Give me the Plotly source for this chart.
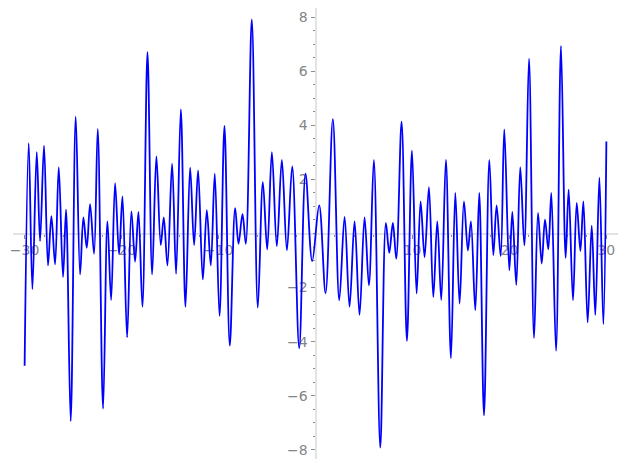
import plotly.graph_objects as go

# turning points of the curve
x_pts = [
    -30.0, -29.58, -29.20, -28.75, -28.41, -28.00, -27.59, -27.24, -26.86, -26.48,
    -26.04, -25.73, -25.25, -24.73, -24.28, -23.94, -23.59, -23.25, -22.84, -22.46,
    -21.91, -21.46, -21.08, -20.67, -20.26, -19.91, -19.43, -18.99, -18.61, -18.26,
    -17.85, -17.33, -16.85, -16.41, -15.96, -15.65, -15.27, -14.79, -14.38, -13.89,
    -13.41, -12.93, -12.52, -12.11, -11.62, -11.21, -10.80, -10.39, -9.90, -9.39,
    -8.84, -8.29, -7.94, -7.53, -7.19, -6.57, -5.95, -5.43, -4.98, -4.50,
    -3.99, -3.47, -2.95, -2.40, -1.68, -1.03, -0.34, 0.38, 1.04, 1.79,
    2.45, 3.00, 3.51, 4.03, 4.54, 5.06, 5.51, 6.02, 6.68, 7.26,
    7.61, 7.98, 8.33, 8.88, 9.43, 9.95, 10.43, 10.84, 11.25, 11.70,
    12.15, 12.56, 12.97, 13.45, 13.97, 14.42, 14.86, 15.31, 15.72, 16.03,
    16.48, 16.89, 17.38, 17.93, 18.34, 18.68, 19.10, 19.47, 19.99, 20.30,
    20.71, 21.12, 21.54, 22.02, 22.54, 22.95, 23.33, 23.67, 24.01, 24.32,
    24.81, 25.32, 25.80, 26.11, 26.56, 26.94, 27.32, 27.63, 28.07, 28.49,
    28.86, 29.28, 29.69, 30.0,
]
y_pts = [
    -4.89, 3.34, -2.06, 3.01, -0.28, 3.25, -1.18, 0.64, -1.14, 2.45,
    -1.61, 0.88, -6.94, 4.32, -1.51, 0.60, -0.53, 1.09, -0.75, 3.87,
    -6.48, 0.45, -2.46, 1.86, -0.77, 1.37, -3.84, 0.82, -1.04, 0.80,
    -2.71, 6.71, -1.51, 2.85, -0.43, 0.60, -1.18, 2.58, -1.49, 4.59,
    -2.71, 2.44, -0.43, 2.33, -1.70, 0.86, -1.18, 2.21, -3.05, 3.98,
    -4.15, 0.94, -0.38, 0.72, -0.38, 7.92, -2.74, 1.90, -0.59, 3.01,
    -0.47, 2.72, -0.62, 2.48, -4.24, 2.21, -1.02, 1.04, -2.21, 4.23,
    -2.47, 0.61, -2.71, 0.45, -3.01, 0.60, -1.92, 2.72, -7.92, 0.39,
    -0.71, 0.39, -0.93, 4.14, -3.97, 3.06, -2.22, 1.19, -0.87, 1.71,
    -2.35, 0.45, -2.46, 2.72, -4.61, 1.50, -2.59, 1.19, -0.63, 0.45,
    -2.84, 1.50, -6.73, 2.72, -0.80, 1.04, -0.84, 3.85, -1.36, 0.80,
    -1.90, 2.45, -0.44, 6.47, -3.87, 0.76, -1.11, 0.51, -0.59, 1.50,
    -4.34, 6.94, -0.90, 1.62, -2.47, 1.13, -0.65, 1.19, -3.29, 0.29,
    -3.01, 2.07, -3.35, 3.40,
]

x_ticks = [-30, -20, -10, 10, 20, 30]
y_ticks = [-8, -6, -4, -2, 2, 4, 6, 8]
y_tick_text = ["\u22128", "\u22126", "\u22124", "\u22122", "2", "4", "6", "8"]
x_tick_text = ["\u221230", "\u221220", "\u221210", "10", "20", "30"]

fig = go.Figure()
fig.add_trace(
    go.Scatter(
        x=x_pts,
        y=y_pts,
        mode="lines",
        line=dict(color="#0000ff", width=1.8, shape="spline", smoothing=1.0),
        hoverinfo="skip",
    )
)

axis_common = dict(
    showgrid=False,
    zeroline=False,
    showline=True,
    linecolor="#e3e3e3",
    linewidth=2,
    ticks="outside",
    ticklen=4,
    tickwidth=1,
    tickcolor="#8c8c8c",
    tickfont=dict(family="DejaVu Sans", size=14, color="#858585"),
    anchor="free",
    position=0.5,
    automargin=False,
    layer="below traces",
)

# the page puts the figure 8px in from the top-left corner, so the
# figure is a bit smaller than the window and the margins are trimmed
fig.update_layout(
    width=619,
    height=461,
    margin=dict(l=5, r=9, t=0, b=10),
    paper_bgcolor="white",
    plot_bgcolor="white",
    showlegend=False,
    xaxis=dict(
        range=[-31.2, 31.2],
        tickmode="array",
        tickvals=x_ticks,
        ticktext=x_tick_text,
        minor=dict(dtick=2, tick0=0, ticklen=2, ticks="outside", tickcolor="#8c8c8c"),
        **axis_common,
    ),
    yaxis=dict(
        range=[-8.34, 8.34],
        tickmode="array",
        tickvals=y_ticks,
        ticktext=y_tick_text,
        minor=dict(dtick=0.5, tick0=0, ticklen=2, ticks="outside", tickcolor="#8c8c8c"),
        **axis_common,
    ),
)

fig.write_html("out.html")
